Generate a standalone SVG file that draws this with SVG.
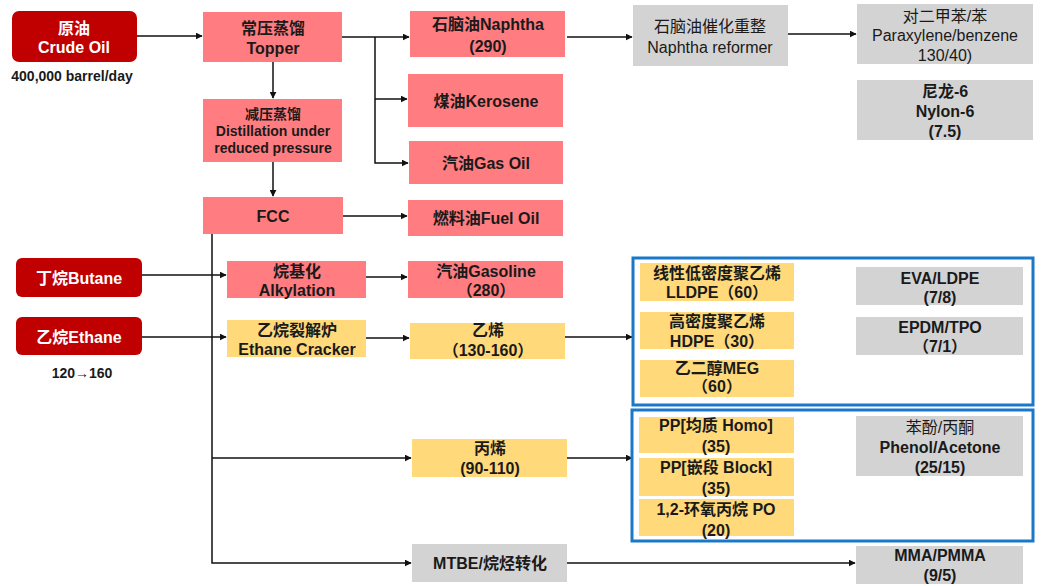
<svg xmlns="http://www.w3.org/2000/svg" width="1041" height="586" viewBox="0 0 1041 586">
<style>
text{font-family:"Liberation Sans","Noto Sans CJK SC",sans-serif;font-weight:bold;font-size:16px;fill:#1a1a1a;text-anchor:middle}
.w{fill:#ffffff}
.n{font-weight:normal}
.s{font-size:14px}
.red{fill:#c00000}
.pink{fill:#ff7c80}
.yel{fill:#ffd97a}
.gray{fill:#d3d3d3}
.blue{fill:none;stroke:#1a78c8;stroke-width:3}
.c{stroke:#111;stroke-width:1.5;fill:none}
</style>
<defs>
<marker id="ah" viewBox="0 0 10 10" refX="9" refY="5" markerWidth="7" markerHeight="7" markerUnits="userSpaceOnUse" orient="auto"><path d="M0,0L10,5L0,10z" fill="#111"/></marker>
</defs>
<g id="connectors">
<path class="c" d="M137,36H202" marker-end="url(#ah)"/>
<path class="c" d="M273,62V98" marker-end="url(#ah)"/>
<path class="c" d="M273,162V196" marker-end="url(#ah)"/>
<path class="c" d="M342,37H409" marker-end="url(#ah)"/>
<path class="c" d="M375,37V163H408" marker-end="url(#ah)"/>
<path class="c" d="M375,99H407" marker-end="url(#ah)"/>
<path class="c" d="M567,37H632" marker-end="url(#ah)"/>
<path class="c" d="M788,34H856" marker-end="url(#ah)"/>
<path class="c" d="M343,216H407" marker-end="url(#ah)"/>
<path class="c" d="M212,234V563H411" marker-end="url(#ah)"/>
<path class="c" d="M212,458H411" marker-end="url(#ah)"/>
<path class="c" d="M142,275H226" marker-end="url(#ah)"/>
<path class="c" d="M142,337H226" marker-end="url(#ah)"/>
<path class="c" d="M366,277H407" marker-end="url(#ah)"/>
<path class="c" d="M366,338H409" marker-end="url(#ah)"/>
<path class="c" d="M565,337H632" marker-end="url(#ah)"/>
<path class="c" d="M567,458H632" marker-end="url(#ah)"/>
<path class="c" d="M567,563H855" marker-end="url(#ah)"/>
</g>
<g id="crude"><rect class="red" x="12" y="11" width="125" height="51" rx="7"/><text class="w" x="74" y="34">原油</text><text class="w" x="74" y="53">Crude Oil</text></g>
<g id="crude-note"><text class="s" x="72" y="81">400,000 barrel/day</text></g>
<g id="topper"><rect class="pink" x="203" y="12" width="139" height="50"/><text x="273" y="34">常压蒸馏</text><text x="273" y="54">Topper</text></g>
<g id="distill"><rect class="pink" x="203" y="99" width="139" height="63"/><text class="s" x="273" y="119">减压蒸馏</text><text class="s" x="273" y="136">Distillation under</text><text class="s" x="273" y="153">reduced pressure</text></g>
<g id="fcc"><rect class="pink" x="203" y="197" width="140" height="37"/><text x="273" y="222">FCC</text></g>
<g id="naphtha"><rect class="pink" x="410" y="11" width="155" height="46"/><text x="488" y="30">石脑油Naphtha</text><text x="488" y="52">(290)</text></g>
<g id="kerosene"><rect class="pink" x="408" y="74" width="155" height="53"/><text x="486" y="107">煤油Kerosene</text></g>
<g id="gasoil"><rect class="pink" x="409" y="141" width="154" height="43"/><text x="486" y="169">汽油Gas Oil</text></g>
<g id="fueloil"><rect class="pink" x="408" y="200" width="155" height="36"/><text x="486" y="224">燃料油Fuel Oil</text></g>
<g id="reformer"><rect class="gray" x="633" y="5" width="155" height="61"/><text class="n" x="710" y="32">石脑油催化重整</text><text class="n" x="710" y="53">Naphtha reformer</text></g>
<g id="paraxylene"><rect class="gray" x="857" y="4" width="176" height="60"/><text class="n" x="945" y="22">对二甲苯/苯</text><text class="n" x="945" y="41">Paraxylene/benzene</text><text class="n" x="945" y="61">130/40)</text></g>
<g id="nylon"><rect class="gray" x="857" y="80" width="176" height="60"/><text x="945" y="97">尼龙-6</text><text x="945" y="117">Nylon-6</text><text x="945" y="137">(7.5)</text></g>
<g id="butane"><rect class="red" x="16" y="258" width="126" height="39" rx="6"/><text class="w" x="79" y="284">丁烷Butane</text></g>
<g id="ethane"><rect class="red" x="16" y="317" width="126" height="38" rx="6"/><text class="w" x="79" y="343">乙烷Ethane</text></g>
<g id="ethane-note"><text class="s" x="82" y="378">120→160</text></g>
<g id="alkylation"><rect class="pink" x="227" y="261" width="139" height="37"/><text x="297" y="277">烷基化</text><text x="297" y="296">Alkylation</text></g>
<g id="cracker"><rect class="yel" x="227" y="320" width="139" height="37"/><text x="297" y="336">乙烷裂解炉</text><text x="297" y="355">Ethane Cracker</text></g>
<g id="gasoline"><rect class="pink" x="408" y="261" width="155" height="37"/><text x="486" y="277">汽油Gasoline</text><text x="486" y="296">（280）</text></g>
<g id="ethylene"><rect class="yel" x="410" y="323" width="155" height="36"/><text x="488" y="336">乙烯</text><text x="488" y="356">（130-160）</text></g>
<g id="propylene"><rect class="yel" x="412" y="439" width="155" height="38"/><text x="490" y="454">丙烯</text><text x="490" y="474">(90-110)</text></g>
<g id="mtbe"><rect class="gray" x="412" y="544" width="155" height="38"/><text x="490" y="569">MTBE/烷烃转化</text></g>
<g id="ethylene-group"><rect class="blue" x="633" y="258" width="400" height="147"/></g>
<g id="lldpe"><rect class="yel" x="640" y="263" width="154" height="38"/><text x="717" y="279">线性低密度聚乙烯</text><text x="717" y="298">LLDPE（60）</text></g>
<g id="hdpe"><rect class="yel" x="640" y="312" width="154" height="37"/><text x="717" y="327">高密度聚乙烯</text><text x="717" y="347">HDPE（30）</text></g>
<g id="meg"><rect class="yel" x="640" y="360" width="154" height="37"/><text x="717" y="374">乙二醇MEG</text><text x="717" y="392">（60）</text></g>
<g id="eva"><rect class="gray" x="856" y="267" width="167" height="38"/><text x="940" y="284">EVA/LDPE</text><text x="940" y="303">(7/8)</text></g>
<g id="epdm"><rect class="gray" x="856" y="317" width="167" height="38"/><text x="940" y="333">EPDM/TPO</text><text x="940" y="352">（7/1）</text></g>
<g id="propylene-group"><rect class="blue" x="632" y="410" width="401" height="131"/></g>
<g id="pphomo"><rect class="yel" x="639" y="417" width="155" height="36"/><text x="716" y="431">PP[均质 Homo]</text><text x="716" y="452">(35)</text></g>
<g id="ppblock"><rect class="yel" x="639" y="458" width="155" height="38"/><text x="716" y="473">PP[嵌段 Block]</text><text x="716" y="494">(35)</text></g>
<g id="po"><rect class="yel" x="639" y="499" width="155" height="37"/><text x="716" y="515">1,2-环氧丙烷 PO</text><text x="716" y="536">(20)</text></g>
<g id="phenol"><rect class="gray" x="856" y="416" width="167" height="60"/><text class="n" x="940" y="433">苯酚/丙酮</text><text x="940" y="453">Phenol/Acetone</text><text x="940" y="473">(25/15)</text></g>
<g id="mma"><rect class="gray" x="856" y="546" width="167" height="38"/><text x="940" y="561">MMA/PMMA</text><text x="940" y="581">(9/5)</text></g>
</svg>
